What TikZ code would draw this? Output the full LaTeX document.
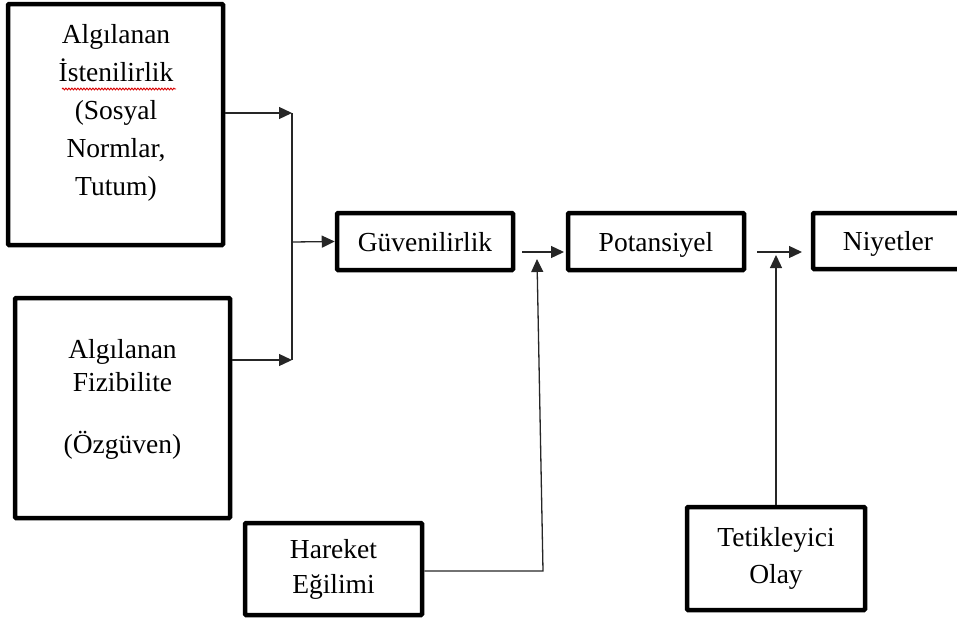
\documentclass[tikz,border=0pt]{standalone}
\usepackage{fontspec}
\setmainfont{Liberation Serif}
\usetikzlibrary{arrows.meta,decorations.pathmorphing}
\tikzset{
  boxnode/.style={draw, line width=4.5pt, rounded corners=1pt, inner sep=0pt,
    align=center, font=\fontsize{27.5}{36}\selectfont},
  txt/.style={inner sep=0pt, align=center},
  conn/.style={line width=1.3pt, draw=black!85},
  arr/.style={conn, -{Triangle[length=13pt,width=12pt]}}
}
\begin{document}
\begin{tikzpicture}[x=1pt,y=-1pt]
\clip (0,0) rectangle (957,621);
% boxes
\node[boxnode, minimum width=215pt, minimum height=241pt] (A) at (115.5,124.5) {};
\node[txt, font=\fontsize{27.5}{38}\selectfont] (Atxt) at (116,113)
  {Algılanan\\İstenilirlik\\(Sosyal\\Normlar,\\Tutum)};
\node[boxnode, minimum width=215pt, minimum height=220pt] (B) at (122.5,408) {};
\node[txt, font=\fontsize{27.5}{33}\selectfont] (Btxt) at (122.5,399)
  {Algılanan\\Fizibilite\\[29pt](Özgüven)};
\node[boxnode, minimum width=176pt, minimum height=57pt, text depth=0pt] (G) at (425,241.5) {Güvenilirlik};
\node[boxnode, minimum width=176pt, minimum height=57pt, text depth=0pt] (P) at (656,241.5) {Potansiyel};
\node[boxnode, minimum width=150pt, minimum height=56pt, text depth=0pt] (N) at (888,241) {Niyetler};
\node[boxnode, minimum width=177pt, minimum height=92pt, font=\fontsize{27.5}{35}\selectfont] (H) at (333.5,569) {Hareket\\Eğilimi};
\node[boxnode, minimum width=178pt, minimum height=103pt, font=\fontsize{27.5}{37}\selectfont] (T) at (776,558.5) {Tetikleyici\\Olay};
% spell-check underline
\draw[red!85!black, line width=0.9pt, decorate, decoration={snake, amplitude=0.9pt, segment length=3pt}] (62,89) -- (176,89);
% junction
\coordinate (jA) at (292,113);
\coordinate (jB) at (292,360);
\coordinate (jG) at (292,242);
\draw[arr] (A.east |- jA) -- (jA);
\draw[arr] (B.east |- jB) -- (jB);
\draw[conn] (jA) -- (jB);
\draw[arr] (jG) -- (G.west);
% G -> P
\coordinate (gp1) at (522,252);
\coordinate (gp2) at (564,252);
\draw[arr] (gp1) -- (gp2);
% H -> up
\coordinate (hc) at (543,571);
\coordinate (ht) at (537,259);
\draw[arr] (H.east |- hc) -- (hc) -- (ht);
% P -> N
\coordinate (pn1) at (757,252);
\coordinate (pn2) at (802,252);
\draw[arr] (pn1) -- (pn2);
% T -> up
\coordinate (tt) at (776,255);
\draw[arr] (T.north) -- (tt);
\end{tikzpicture}
\end{document}
